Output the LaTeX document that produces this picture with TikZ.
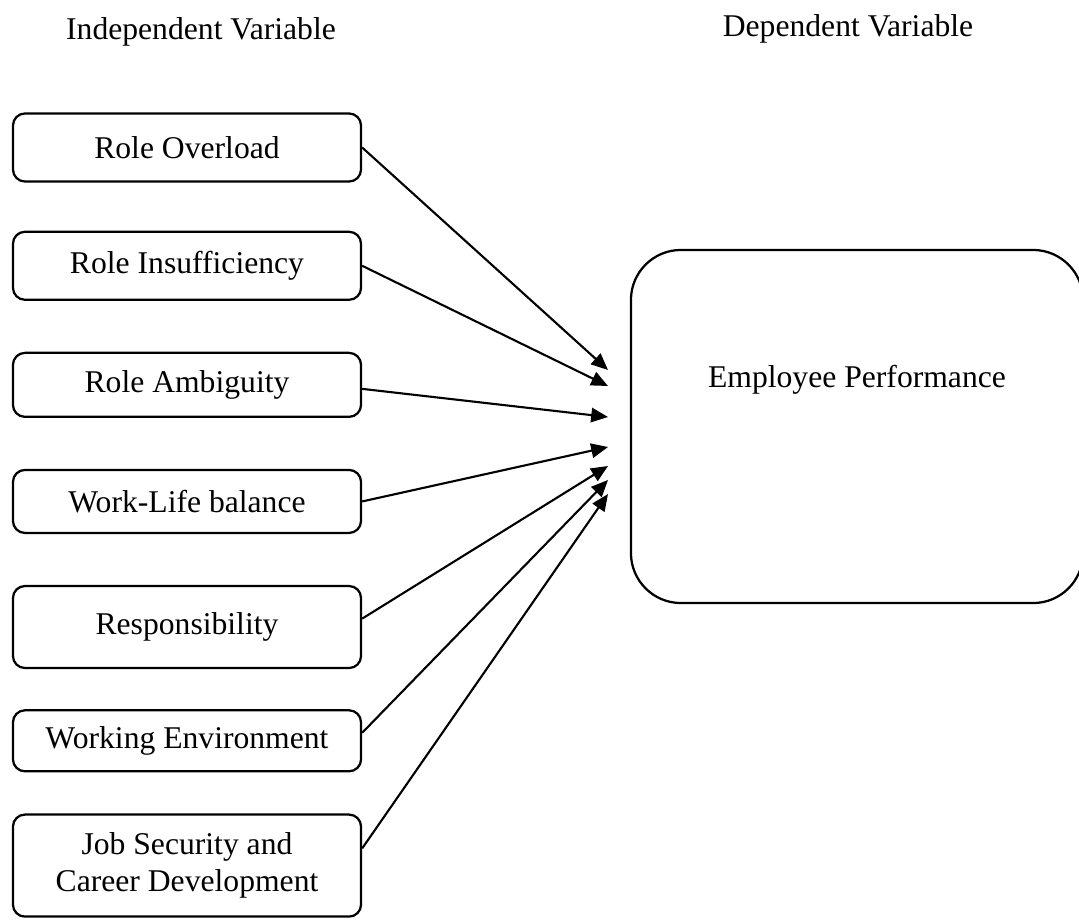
\documentclass[tikz,border=0pt]{standalone}
\usepackage{fontspec}
\setmainfont{Liberation Serif}
\usetikzlibrary{arrows.meta, calc, positioning}

\begin{document}
\begin{tikzpicture}[x=0.025cm, y=-0.025cm, node distance=1.27cm,
  font=\fontsize{22.5}{26}\selectfont,
  factor/.style={draw, line width=1.6pt, rounded corners=0.3cm,
    minimum width=8.7cm, minimum height=1.7cm, align=center, inner sep=0pt},
  outcome/.style={draw, line width=1.6pt, rounded corners=1.25cm,
    minimum width=11.3cm, minimum height=8.825cm,
    text height=0.55cm, text depth=2.5cm},
  link/.style={line width=1.5pt, -{Triangle[length=0.42cm, width=0.36cm]}}]
\useasboundingbox (0,0) rectangle (1079,921);

\node (indep) at (201,32) {Independent Variable};
\node (dep) at (848,29) {Dependent Variable};

\node (ovl) [factor] at (187,147.5) {Role Overload};
\node (insuf) [factor, below=1.2cm of ovl] {Role Insufficiency};
\node (ambig) [factor, below=of insuf, minimum height=1.6cm] {Role Ambiguity};
\node (wlb) [factor, below=of ambig, minimum height=1.575cm] {Work-Life balance};
\node (resp) [factor, below=of wlb, minimum height=2.05cm] {Responsibility};
\node (env) [factor, below=1cm of resp, minimum height=1.525cm] {Working Environment};
\node (job) [factor, below=1.025cm of env, minimum height=2.55cm] {Job Security and\\Career Development};

\node (perf) [outcome] at (857,426.5) {Employee Performance};

\foreach \n/\y in {1/370, 2/386, 3/417, 4/447, 5/466, 6/480, 7/494}
  \coordinate (tip\n) at (608,\y);

\draw[link] (ovl.east) -- (tip1);
\draw[link] (insuf.east) -- (tip2);
\draw[link] ([yshift=-0.1cm]ambig.east) -- (tip3);
\draw[link] (wlb.east) -- (tip4);
\draw[link] ([yshift=0.21cm]resp.east) -- (tip5);
\draw[link] ([yshift=0.2cm]env.east) -- (tip6);
\draw[link] ([yshift=0.43cm]job.east) -- (tip7);
\end{tikzpicture}
\end{document}
